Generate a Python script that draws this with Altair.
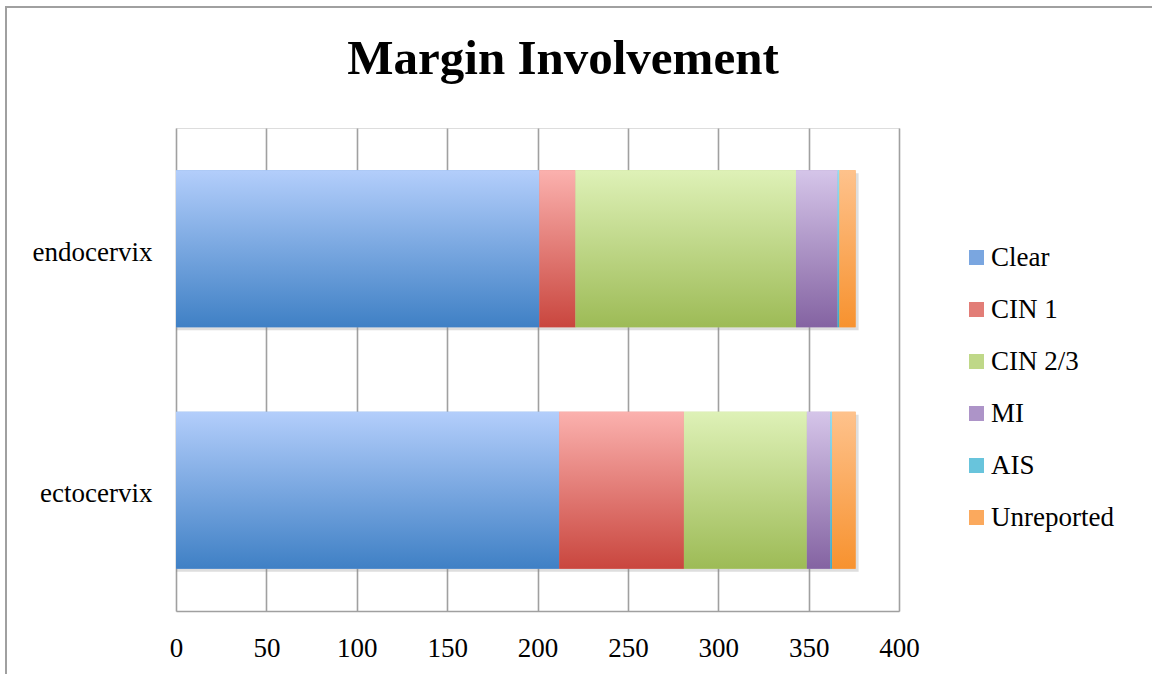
import altair as alt
import pandas as pd

# Cases per cervical site, split by margin status
sites = ["endocervix", "ectocervix"]
statuses = ["Clear", "CIN 1", "CIN 2/3", "MI", "AIS", "Unreported"]
endocervix_counts = [201, 20, 122, 23, 1, 9]
ectocervix_counts = [212, 69, 68, 13, 1, 13]
chart_title = "Margin Involvement"

# Light (top) and dark (bottom) shade of each status colour
top_colors = ["#b3cefb", "#fbb1ae", "#def1b7", "#d5c5e9", "#93def2", "#fec28c"]
bottom_colors = ["#3f80c5", "#c9463e", "#9dbb56", "#8463a2", "#3eaac6", "#f7922f"]
mid_colors = ["#7aa6e0", "#e27d77", "#bfd888", "#ad94c8", "#68c4dc", "#fba95d"]

rows = []
for site, counts in zip(sites, [endocervix_counts, ectocervix_counts]):
    for i, (status, n) in enumerate(zip(statuses, counts)):
        rows.append({"site": site, "status": status, "order": i, "count": n})
df = pd.DataFrame(rows)

FONT = "Liberation Serif"

y_enc = alt.Y(
    "site:N",
    sort=sites,
    title=None,
    scale=alt.Scale(paddingInner=0.35, paddingOuter=0.175),
    axis=alt.Axis(domain=False, ticks=False, grid=False, labelFontSize=27,
                  labelFont=FONT, labelColor="#000000", labelPadding=24,
                  labelOffset=4),
)
x_scale = alt.Scale(domain=[0, 400], nice=False)
x_axis = alt.Axis(values=list(range(0, 401, 50)), grid=True, gridColor="#a0a0a0",
                  gridWidth=1.6, domain=True, domainColor="#a0a0a0", domainWidth=1.6,
                  ticks=False, labelFontSize=27, labelFont=FONT, labelColor="#000000",
                  labelPadding=24, labelFlush=False)

base = alt.Chart(df).transform_stack(
    stack="count", groupby=["site"], as_=["x0", "x1"],
    sort=[alt.SortField("order", order="ascending")],
)

one_row = pd.DataFrame({"k": [0]})

# Outer frame around the whole figure
frame = alt.Chart(one_row).mark_rect(
    fill=None, stroke="#a0a0a0", strokeWidth=2
).encode(x=alt.value(-170), x2=alt.value(985), y=alt.value(-121), y2=alt.value(560))

# Chart heading
heading = alt.Chart(one_row).mark_text(
    text=chart_title, font=FONT, fontSize=49, fontWeight="bold", color="#000000",
    align="center", baseline="alphabetic",
).encode(x=alt.value(387), y=alt.value(-54))

# Soft drop shadow behind each full bar
shadow = alt.Chart(df).transform_aggregate(
    total="sum(count)", groupby=["site"]
).mark_bar(color="#888888", opacity=0.28, xOffset=3, yOffset=3).encode(
    x=alt.X("total:Q", scale=x_scale, axis=x_axis, title=None, stack=None),
    x2=alt.datum(0),
    y=y_enc,
)

# Solid stacked bars carrying the legend
solid = base.mark_bar().encode(
    x=alt.X("x0:Q", scale=x_scale, axis=x_axis, title=None),
    x2="x1:Q",
    y=y_enc,
    color=alt.Color(
        "status:N",
        scale=alt.Scale(domain=statuses, range=mid_colors),
        legend=alt.Legend(
            title=None, orient="none", legendX=787, legendY=116,
            symbolType="square", symbolSize=225, symbolStrokeWidth=0,
            labelFontSize=27, labelFont=FONT, labelColor="#000000",
            labelOffset=1, rowPadding=24, padding=0,
        ),
    ),
)

# Vertical gradient overlay for each status
gradient_layers = []
for status, top, bottom in zip(statuses, top_colors, bottom_colors):
    grad = alt.Gradient(
        gradient="linear",
        stops=[alt.GradientStop(color=top, offset=0),
               alt.GradientStop(color=bottom, offset=1)],
        x1=0, x2=0, y1=0, y2=1,
    )
    gradient_layers.append(
        base.transform_filter(alt.datum.status == status)
        .mark_bar(fill=grad, strokeWidth=0)
        .encode(x=alt.X("x0:Q", scale=x_scale, axis=x_axis, title=None),
                x2="x1:Q", y=y_enc)
    )

chart = alt.layer(frame, heading, shadow, solid, *gradient_layers).properties(
    width=723,
    height=483,
    autosize=alt.AutoSizeParams(type="none"),
    padding={"left": 176, "top": 128, "right": 253, "bottom": 63},
).configure_view(stroke=None).configure(background="#ffffff")

chart.save("out.html", embed_options={"renderer": "svg", "actions": False})
